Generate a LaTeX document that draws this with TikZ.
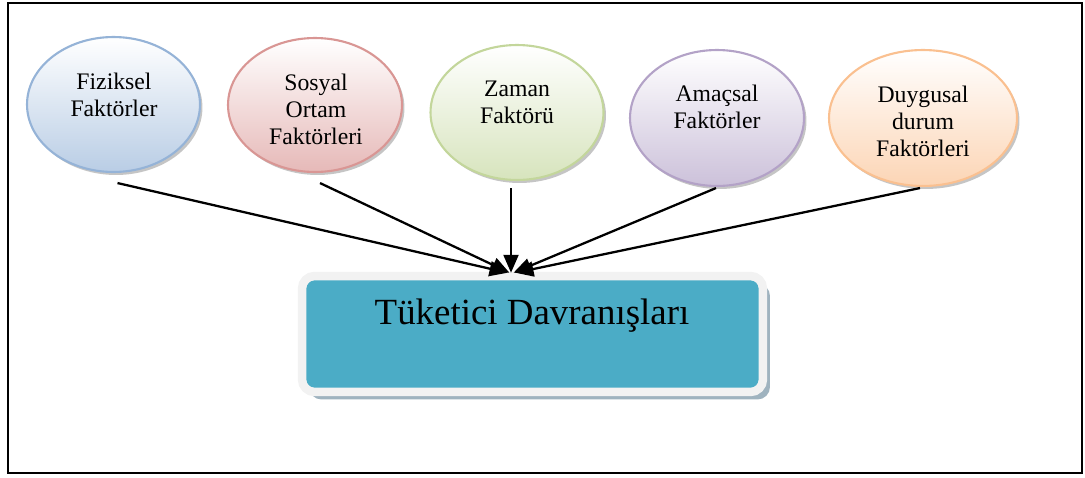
\documentclass[tikz,border=0pt]{standalone}
\usepackage{fontspec}
\setmainfont{Liberation Serif}
\usetikzlibrary{arrows.meta,shapes.geometric,shadows,calc}

\definecolor{blueline}{HTML}{95B3D7}
\definecolor{bluefill}{HTML}{B9CDE5}
\definecolor{redline}{HTML}{D99694}
\definecolor{redfill}{HTML}{E6B9B8}
\definecolor{greenline}{HTML}{C3D69B}
\definecolor{greenfill}{HTML}{D7E4BD}
\definecolor{purpleline}{HTML}{B3A2C7}
\definecolor{purplefill}{HTML}{CCC1DA}
\definecolor{orangeline}{HTML}{FAC090}
\definecolor{orangefill}{HTML}{FCD5B5}
\definecolor{mainfill}{HTML}{4BACC6}
\definecolor{mainrim}{HTML}{F2F2F2}
\definecolor{mainshadow}{HTML}{9FB3BF}

\tikzset{
  factor/.style={ellipse, line width=1.2pt, inner sep=0pt,
    top color=white, shading angle=0,
    drop shadow={shadow xshift=0.05cm, shadow yshift=-0.06cm, fill=black!45}},
  factortext/.style={align=center, font=\fontsize{13.5}{15.4}\selectfont},
  mainbox/.style={rectangle, rounded corners=0.25cm, draw=mainrim, line width=0.17cm,
    fill=mainfill, minimum width=9.22cm, minimum height=2.32cm, inner sep=0pt,
    drop shadow={shadow xshift=0.14cm, shadow yshift=-0.15cm, fill=mainshadow, opacity=1}},
  maintext/.style={font=\fontsize{21}{24}\selectfont},
  arr/.style={line width=1.3pt, -{Triangle[length=0.36cm, width=0.3cm]}}
}

\begin{document}
\begin{tikzpicture}[x=0.02cm, y=-0.02cm]
  \useasboundingbox (0,0) rectangle (1085,477);

  % outer frame
  \draw[line width=1.2pt] (8,3) rectangle (1082,473);

  % factor ellipses
  \node[factor, draw=blueline, bottom color=bluefill,
        minimum width=3.46cm, minimum height=2.7cm] (f1) at (113.5,104.5) {};
  \node[factor, draw=redline, bottom color=redfill,
        minimum width=3.48cm, minimum height=2.68cm] (f2) at (315,105) {};
  \node[factor, draw=greenline, bottom color=greenfill,
        minimum width=3.46cm, minimum height=2.7cm] (f3) at (517,112.5) {};
  \node[factor, draw=purpleline, bottom color=purplefill,
        minimum width=3.48cm, minimum height=2.72cm] (f4) at (717,118) {};
  \node[factor, draw=orangeline, bottom color=orangefill,
        minimum width=3.76cm, minimum height=2.72cm] (f5) at (923,118) {};

  % factor labels
  \node[factortext] (t1) at (114,95) {Fiziksel\\Faktörler};
  \node[factortext] (t2) at (316,109) {Sosyal\\Ortam\\Faktörleri};
  \node[factortext] (t3) at (517,102) {Zaman\\Faktörü};
  \node[factortext] (t4) at (717,107) {Amaçsal\\Faktörler};
  \node[factortext] (t5) at (923,121) {Duygusal\\durum\\Faktörleri};

  % central box
  \node[mainbox] (main) at (532.5,334) {};
  \node[maintext] (mtext) at (532,316) {Tüketici Davranışları};

  % connectors
  \draw[arr] ($(f1.south)+(4,10)$) -- ($(main.north)+(-25,1)$);
  \draw[arr] ($(f2.south)+(5,10)$) -- ($(main.north)+(-23,1)$);
  \draw[arr] ($(f3.south)+(-6,7)$) -- ($(main.north)+(-21.5,1)$);
  \draw[arr] ($(f4.south)+(-1,1)$) -- ($(main.north)+(-19,1)$);
  \draw[arr] ($(f5.south)+(-3,1)$) -- ($(main.north)+(-17,1)$);
\end{tikzpicture}
\end{document}
